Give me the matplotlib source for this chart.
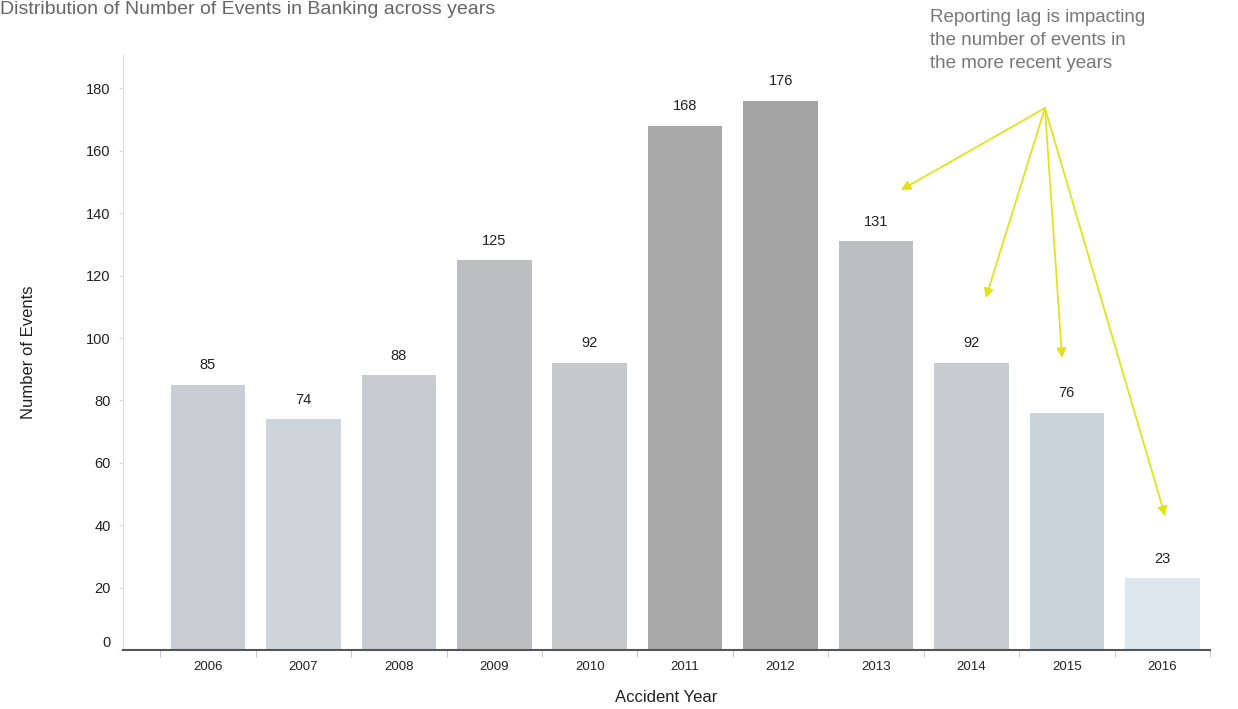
import numpy as np
import matplotlib
matplotlib.use("Agg")
import matplotlib.pyplot as plt

years = ["2006", "2007", "2008", "2009", "2010", "2011", "2012", "2013", "2014", "2015", "2016"]
events = [85, 74, 88, 125, 92, 168, 176, 131, 92, 76, 23]
bar_colors = ["#c9cdd3", "#ced5da", "#c8ccd2", "#bcbec1", "#c6c9cc", "#a9a9a9",
              "#a4a4a4", "#bcbfc2", "#c7ccd0", "#cbd4da", "#dce6ee"]

# arrow start and the points it points at (category index, value)
arrow_start = (8.77, 173.7)
arrow_targets = [(7.26, 147.4), (8.15, 112.8), (8.95, 93.6), (10.03, 42.9)]

plt.rcParams["font.family"] = ["Liberation Sans", "DejaVu Sans"]

fig = plt.figure(figsize=(12.38, 7.09), dpi=100)
ax = fig.add_axes([0.0994, 0.0832, 0.878, 0.8392])

x = np.arange(len(years))
bars = ax.bar(x, events, width=0.78, color=bar_colors)

for xi, v in zip(x, events):
    ax.annotate(str(v), (xi, v), xytext=(0, 9), textcoords="offset points",
                ha="center", va="bottom", fontsize=10.5, color="#222222")

ax.set_xlim(-0.89, 10.5)
ax.set_ylim(0, 190.7)
ax.set_yticks(range(0, 181, 20))
ax.set_xticks(x)
ax.set_xticklabels(years, fontsize=9.5, color="#222222")
ax.set_xticks(np.arange(-0.5, 10.6, 1), minor=True)
ax.tick_params(axis="x", which="major", length=0, pad=8)
ax.tick_params(axis="x", which="minor", length=5, color="#bbbbbb", direction="out")
ax.tick_params(axis="y", length=3, color="#dddddd", labelsize=10.5, labelcolor="#222222", pad=6)
ax.get_yticklabels()[0].set_va("bottom")

for s in ["top", "right"]:
    ax.spines[s].set_visible(False)
ax.spines["left"].set_color("#dddddd")
ax.spines["bottom"].set_color("#555555")
ax.spines["bottom"].set_linewidth(1.5)

ax.set_ylabel("Number of Events", fontsize=12, color="#222222", labelpad=36)
ax.set_xlabel("Accident Year", fontsize=12, color="#222222", labelpad=12)

for tx, ty in arrow_targets:
    ax.annotate("", xy=(tx, ty), xytext=arrow_start,
                arrowprops=dict(arrowstyle="-|>", color="#e3e31c", lw=1.3,
                                mutation_scale=14, shrinkA=0, shrinkB=0),
                annotation_clip=False)

fig.text(930 / 1238, 1 - 9 / 709,
         "Reporting lag is impacting\nthe number of events in\nthe more recent years",
         ha="left", va="top", fontsize=13.5, color="#777777", linespacing=1.45)

fig.text(0.0, 1 - 1 / 709, "Distribution of Number of Events in Banking across years",
         ha="left", va="top", fontsize=14, color="#666666")

fig.savefig("out.png", dpi=100)
